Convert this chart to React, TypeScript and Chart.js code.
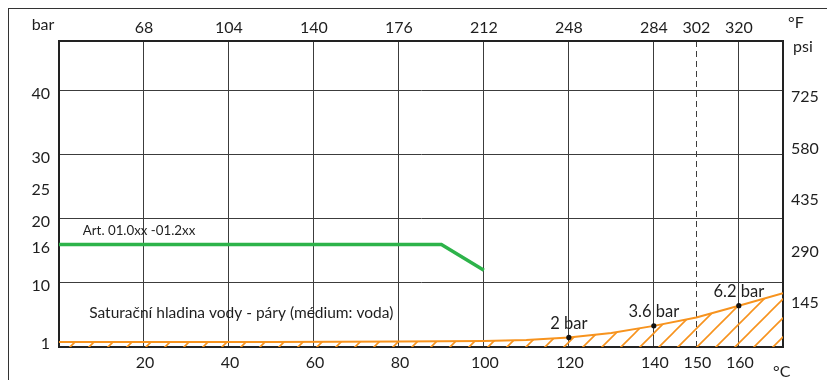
import React, { useEffect, useRef } from "react";
import { Chart, registerables } from "chart.js";

Chart.register(...registerables);

// ---- data ----
const celsiusTicks = [20, 40, 60, 80, 100, 120, 140, 150, 160];
const fahrenheitLabels = ["68", "104", "140", "176", "212", "248", "284", "302", "320"];
const dashedCelsius = [150];
const barTicks = [1, 10, 16, 20, 25, 30, 40];
const barGridValues = [10, 20, 30, 40];
const psiTicks = [145, 290, 435, 580, 725];

const limitTemps = [0, 90, 100];
const limitPressures = [16, 16, 12];
const limitLabel = "Art. 01.0xx -01.2xx";

const satTemps = [0, 50, 80, 100, 110, 120, 130, 140, 150, 160, 170.4];
const satPressures = [0.8, 0.8, 0.85, 0.95, 1.1, 1.5, 2.2, 3.3, 4.6, 6.45, 8.4];
const satLabel = "Saturační hladina vody - páry (médium: voda)";

const markerTemps = [120, 140, 160];
const markerPressures = [1.5, 3.3, 6.45];
const markerLabels = ["2 bar", "3.6 bar", "6.2 bar"];

const ORANGE = "#f7931e";
const GREEN = "#2db34a";
const GRID = "#3c3c3c";
const TEXT = "#1e1e1e";
const FONT = "Lato";

export default function App() {
  const ref = useRef<HTMLCanvasElement | null>(null);

  useEffect(() => {
    const canvas = ref.current!;
    const ctx = canvas.getContext("2d")!;

    const tile = document.createElement("canvas");
    tile.width = 19;
    tile.height = 19;
    const t = tile.getContext("2d")!;
    t.strokeStyle = ORANGE;
    t.lineWidth = 1.6;
    t.beginPath();
    t.moveTo(-2, 21);
    t.lineTo(21, -2);
    t.moveTo(-2, 2);
    t.lineTo(2, -2);
    t.moveTo(17, 21);
    t.lineTo(21, 17);
    t.stroke();
    const pattern = ctx.createPattern(tile, "repeat")!;

    const textPlugin = {
      id: "texts",
      afterDatasetsDraw(chart: any) {
        const { ctx: c, chartArea: a, scales } = chart;
        const x = scales.x;
        const y = scales.y;
        c.save();
        c.fillStyle = TEXT;
        c.textBaseline = "middle";
        // in-plot annotations
        c.font = `13.3px ${FONT}`;
        c.textAlign = "left";
        c.fillText(limitLabel, x.getPixelForValue(5.6), y.getPixelForValue(18.1));
        c.font = `15.5px ${FONT}`;
        c.fillText(satLabel, x.getPixelForValue(7.1), y.getPixelForValue(5.3));
        c.font = `16.5px ${FONT}`;
        c.textAlign = "center";
        markerTemps.forEach((tv, i) => {
          c.fillText(markerLabels[i], x.getPixelForValue(tv), y.getPixelForValue(markerPressures[i]) - 14);
        });
        // unit labels
        c.font = `16px ${FONT}`;
        c.textAlign = "center";
        c.fillText("bar", a.left - 16, a.top - 16);
        c.textAlign = "left";
        c.fillText("°F", a.right + 5, a.top - 18);
        c.fillText("psi", a.right + 10, a.top + 6);
        c.fillText("°C", a.right - 10, a.bottom + 25);
        c.restore();
      },
    };

    const chart = new Chart(ctx, {
      type: "line",
      data: {
        datasets: [
          {
            label: "sat",
            data: satTemps.map((v, i) => ({ x: v, y: satPressures[i] })),
            borderColor: ORANGE,
            borderWidth: 2,
            backgroundColor: pattern as any,
            fill: "origin",
            pointRadius: 0,
            tension: 0,
            order: 3,
          },
          {
            label: "limit",
            data: limitTemps.map((v, i) => ({ x: v, y: limitPressures[i] })),
            borderColor: GREEN,
            borderWidth: 3.5,
            pointRadius: 0,
            fill: false,
            tension: 0,
            order: 2,
          },
          {
            label: "markers",
            data: markerTemps.map((v, i) => ({ x: v, y: markerPressures[i] })),
            showLine: false,
            pointRadius: 2.6,
            pointBackgroundColor: "#111",
            pointBorderColor: "#111",
            pointBorderWidth: 0,
            order: 1,
          },
        ],
      },
      options: {
        animation: false,
        responsive: false,
        layout: { padding: 0 },
        plugins: { legend: { display: false }, tooltip: { enabled: false } },
        scales: {
          x: {
            type: "linear",
            position: "bottom",
            min: 0,
            max: 170.4,
            afterBuildTicks: (s: any) => {
              s.ticks = celsiusTicks.map((v) => ({ value: v }));
            },
            afterFit: (s: any) => {
              s.height = 33;
            },
            ticks: {
              color: TEXT,
              font: { family: FONT, size: 16 },
              padding: 6,
              labelOffset: 1,
              maxRotation: 0,
              autoSkip: false,
            },
            grid: {
              color: GRID,
              lineWidth: 1,
              drawTicks: false,
            },
            border: {
              display: true,
              color: "#222",
              width: 2,
              dash: (c: any) => (c.tick && dashedCelsius.includes(c.tick.value) ? [6, 4] : []),
            },
          },
          x2: {
            type: "linear",
            position: "top",
            min: 0,
            max: 170.4,
            afterBuildTicks: (s: any) => {
              s.ticks = celsiusTicks.map((v) => ({ value: v }));
            },
            afterFit: (s: any) => {
              s.height = 32;
            },
            ticks: {
              color: TEXT,
              font: { family: FONT, size: 16 },
              padding: 4,
              maxRotation: 0,
              autoSkip: false,
              callback: (_v: any, i: number) => fahrenheitLabels[i],
            },
            grid: { drawOnChartArea: false, drawTicks: false },
            border: { display: true, color: "#222", width: 2 },
          },
          y: {
            type: "linear",
            position: "left",
            min: 0,
            max: 47.8,
            afterBuildTicks: (s: any) => {
              s.ticks = barTicks.map((v) => ({ value: v }));
            },
            afterFit: (s: any) => {
              s.width = 50;
            },
            ticks: {
              color: TEXT,
              font: { family: FONT, size: 16 },
              padding: 9,
              labelOffset: 3,
              autoSkip: false,
            },
            grid: {
              color: (c: any) => (c.tick && barGridValues.includes(c.tick.value) ? GRID : "rgba(0,0,0,0)"),
              lineWidth: 1,
              drawTicks: false,
            },
            border: { display: true, color: "#222", width: 2 },
          },
          y2: {
            type: "linear",
            position: "right",
            min: 21.1,
            max: 882.7,
            afterBuildTicks: (s: any) => {
              s.ticks = psiTicks.map((v) => ({ value: v }));
            },
            afterFit: (s: any) => {
              s.width = 44;
            },
            ticks: {
              color: TEXT,
              font: { family: FONT, size: 16 },
              padding: 8,
              autoSkip: false,
            },
            grid: { drawOnChartArea: false, drawTicks: false },
            border: { display: true, color: "#222", width: 2 },
          },
        },
      } as any,
      plugins: [textPlugin],
    });

    return () => chart.destroy();
  }, []);

  return (
    <div
      style={{
        position: "fixed",
        left: 8,
        top: 8,
        width: 819,
        height: 372,
        borderLeft: "1px solid #333",
        borderTop: "1px solid #333",
        background: "#fff",
      }}
    >
      <canvas ref={ref} width={818} height={371} style={{ display: "block", width: 818, height: 371 }} />
    </div>
  );
}
